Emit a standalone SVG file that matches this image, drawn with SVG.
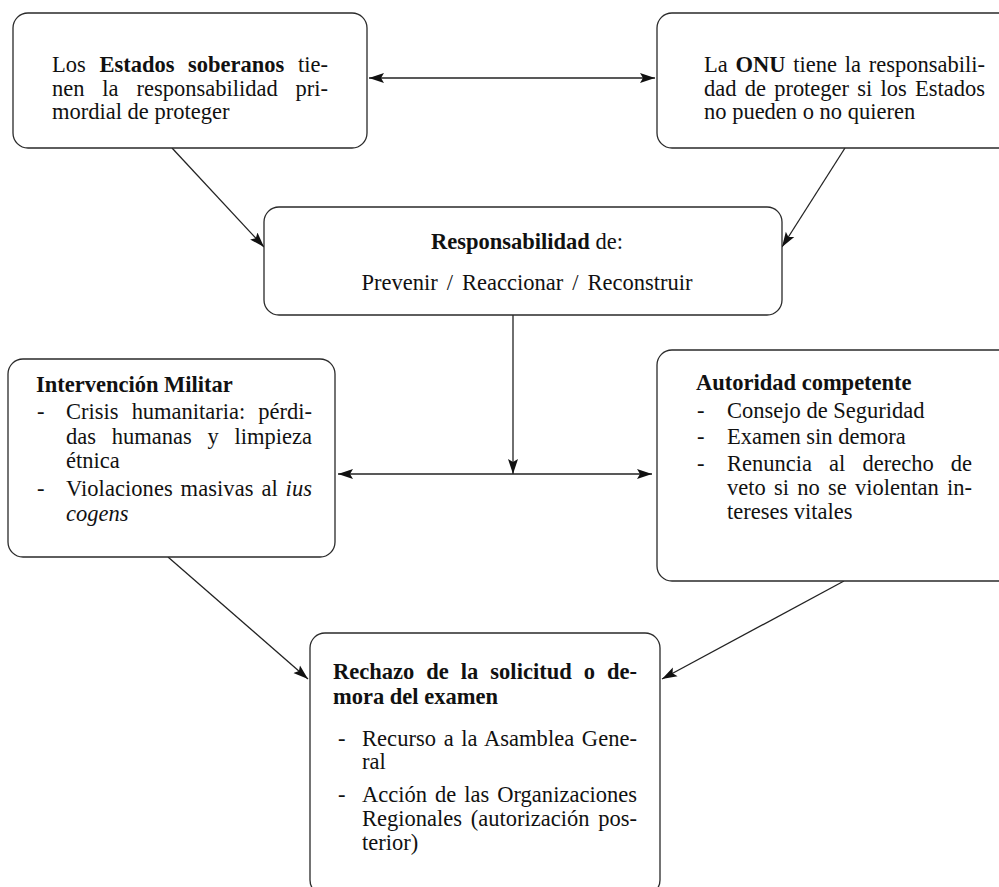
<svg xmlns="http://www.w3.org/2000/svg" width="999" height="887" viewBox="0 0 999 887">
<style>
.box{fill:#fff;stroke:#2a2a2a;stroke-width:1.3}
.t{font-family:"Liberation Serif","Times New Roman",serif;font-size:22.5px;fill:#111}
.b{font-weight:bold}
.i{font-style:italic}
.c{fill:none;stroke:#222;stroke-width:1.3}
</style>
<defs>
<marker id="ah" markerUnits="userSpaceOnUse" markerWidth="16" markerHeight="12" refX="15" refY="5" orient="auto-start-reverse" viewBox="0 0 16 10">
<path d="M0,0 L15,5 L0,10 L3,5 z" fill="#111"/>
</marker>
</defs>
<rect width="999" height="887" fill="#fff"/>

<g id="connectors">
<line class="c" x1="369" y1="78" x2="655" y2="78" marker-start="url(#ah)" marker-end="url(#ah)"/>
<line class="c" x1="172" y1="148" x2="264" y2="247" marker-end="url(#ah)"/>
<line class="c" x1="845" y1="148" x2="782" y2="247" marker-end="url(#ah)"/>
<line class="c" x1="513" y1="315" x2="513" y2="474" marker-end="url(#ah)"/>
<line class="c" x1="338" y1="474" x2="652" y2="474" marker-start="url(#ah)" marker-end="url(#ah)"/>
<line class="c" x1="168" y1="557" x2="308" y2="679" marker-end="url(#ah)"/>
<line class="c" x1="844" y1="581" x2="662" y2="679" marker-end="url(#ah)"/>
</g>

<g id="estados">
<rect class="box" x="13" y="13" width="354" height="135" rx="15"/>
<text class="t" x="52" y="72" word-spacing="8" textLength="276" lengthAdjust="spacing">Los <tspan class="b">Estados soberanos</tspan> tie-</text>
<text class="t" x="52" y="96" word-spacing="12.2" textLength="276" lengthAdjust="spacing">nen la responsabilidad pri-</text>
<text class="t" x="52" y="119">mordial de proteger</text>
</g>

<g id="onu">
<rect class="box" x="657" y="13" width="360" height="135" rx="15"/>
<text class="t" x="704" y="72" word-spacing="2.1" textLength="281" lengthAdjust="spacing">La <tspan class="b">ONU</tspan> tiene la responsabili-</text>
<text class="t" x="704" y="96" word-spacing="2.6" textLength="281" lengthAdjust="spacing">dad de proteger si los Estados</text>
<text class="t" x="704" y="119">no pueden o no quieren</text>
</g>

<g id="responsabilidad">
<rect class="box" x="264" y="207" width="518" height="108" rx="15"/>
<text class="t" x="527" y="249" text-anchor="middle"><tspan class="b">Responsabilidad</tspan> de:</text>
<text class="t" x="527" y="290" text-anchor="middle" word-spacing="3.4">Prevenir / Reaccionar / Reconstruir</text>
</g>

<g id="intervencion">
<rect class="box" x="8" y="359" width="327" height="198" rx="15"/>
<text class="t b" x="36" y="392">Intervención Militar</text>
<text class="t" x="37" y="419">-</text>
<text class="t" x="66" y="419" word-spacing="7.6" textLength="246" lengthAdjust="spacing">Crisis humanitaria: pérdi-</text>
<text class="t" x="66" y="444" word-spacing="10.1" textLength="246" lengthAdjust="spacing">das humanas y limpieza</text>
<text class="t" x="66" y="468">étnica</text>
<text class="t" x="37" y="496">-</text>
<text class="t" x="66" y="496" word-spacing="2.2" textLength="246" lengthAdjust="spacing">Violaciones masivas al <tspan class="i">ius</tspan></text>
<text class="t i" x="66" y="521">cogens</text>
</g>

<g id="autoridad">
<rect class="box" x="657" y="350" width="360" height="231" rx="15"/>
<text class="t b" x="696" y="390">Autoridad competente</text>
<text class="t" x="697" y="418">-</text>
<text class="t" x="727" y="418">Consejo de Seguridad</text>
<text class="t" x="697" y="444">-</text>
<text class="t" x="727" y="444">Examen sin demora</text>
<text class="t" x="697" y="471">-</text>
<text class="t" x="727" y="471" word-spacing="11.5" textLength="245" lengthAdjust="spacing">Renuncia al derecho de</text>
<text class="t" x="727" y="495" word-spacing="2.6" textLength="245" lengthAdjust="spacing">veto si no se violentan in-</text>
<text class="t" x="727" y="519">tereses vitales</text>
</g>

<g id="rechazo">
<rect class="box" x="310" y="633" width="350" height="262" rx="15"/>
<text class="t b" x="333" y="679" word-spacing="6.4" textLength="304" lengthAdjust="spacing">Rechazo de la solicitud o de-</text>
<text class="t b" x="333" y="704">mora del examen</text>
<text class="t" x="338" y="746">-</text>
<text class="t" x="362" y="746" word-spacing="1.9" textLength="275" lengthAdjust="spacing">Recurso a la Asamblea Gene-</text>
<text class="t" x="362" y="769">ral</text>
<text class="t" x="338" y="802">-</text>
<text class="t" x="362" y="802" word-spacing="2.3" textLength="275" lengthAdjust="spacing">Acción de las Organizaciones</text>
<text class="t" x="362" y="826" word-spacing="3.1" textLength="275" lengthAdjust="spacing">Regionales (autorización pos-</text>
<text class="t" x="362" y="850">terior)</text>
</g>
</svg>
